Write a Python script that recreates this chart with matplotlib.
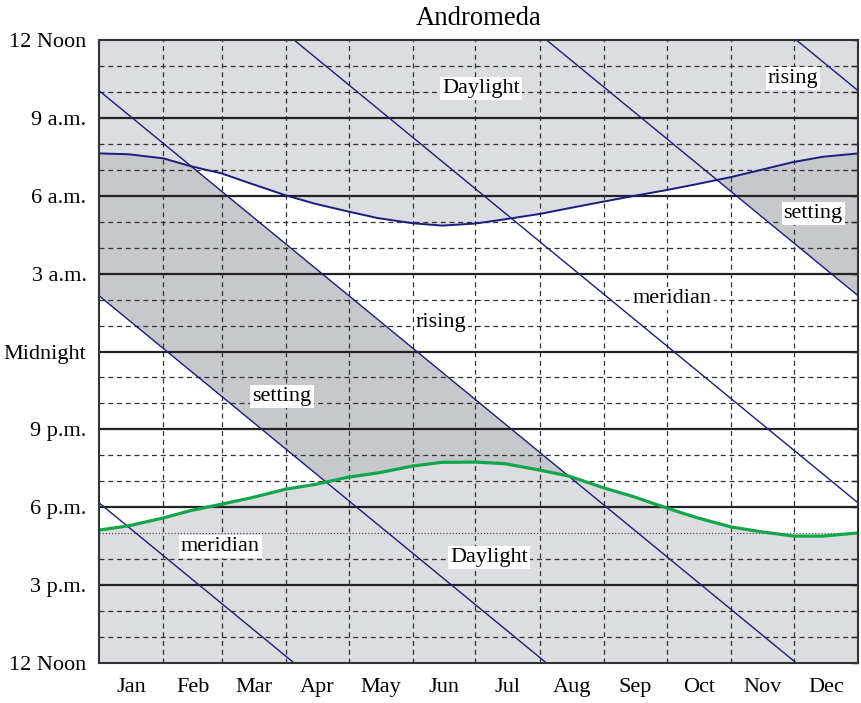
import numpy as np
import matplotlib.pyplot as plt

plt.rcParams['font.family'] = ['Liberation Serif', 'DejaVu Serif']
plt.rcParams['font.size'] = 16

months = ['Jan', 'Feb', 'Mar', 'Apr', 'May', 'Jun',
          'Jul', 'Aug', 'Sep', 'Oct', 'Nov', 'Dec']
month_starts = [0, 31, 59, 90, 120, 151, 181, 212, 243, 273, 304, 334, 365]

hour_labels = ['12 Noon', '3 p.m.', '6 p.m.', '9 p.m.', 'Midnight',
               '3 a.m.', '6 a.m.', '9 a.m.', '12 Noon']

# sunrise / sunset, roughly every half month (day of year, clock hours)
sun_days = [0, 14, 31, 44, 59, 73, 90, 104, 120, 134, 151, 165, 181, 195,
            212, 226, 243, 257, 273, 287, 304, 318, 334, 348, 365]
sunrise_am = [7.63, 7.60, 7.44, 7.14, 6.86, 6.47, 6.01, 5.69, 5.39, 5.14,
              4.94, 4.85, 4.93, 5.09, 5.30, 5.52, 5.78, 5.99, 6.22, 6.44,
              6.72, 6.99, 7.30, 7.50, 7.63]
sunset_pm = [5.12, 5.28, 5.59, 5.87, 6.12, 6.36, 6.70, 6.88, 7.16, 7.32,
             7.59, 7.73, 7.74, 7.68, 7.43, 7.20, 6.74, 6.41, 5.97, 5.61,
             5.24, 5.06, 4.89, 4.89, 5.01]

# Andromeda on 1 Jan, in hours after noon; everything drifts 24 h per year
star_rise_jan1 = 22.05
star_meridian_jan1 = 6.17
star_set_jan1 = 14.15
year_days = 365.0

day_gray = '#dcdde0'
star_gray = '#c7c8cb'
navy = '#1c1c7c'
green = '#12a64a'

fig = plt.figure(figsize=(8.61, 7.03), dpi=100)
ax = fig.add_axes([99 / 861, 40 / 703, 759 / 861, 623 / 703])
ax.set_xlim(0, year_days)
ax.set_ylim(0, 24)
ax.set_facecolor(day_gray)

# night = between sunset and next sunrise
d = np.linspace(0, year_days, 2000)
rise_h = np.interp(d, sun_days, 12 + np.array(sunrise_am))
set_h = np.interp(d, sun_days, sunset_pm)
ax.fill_between(d, set_h, rise_h, color='white', lw=0, zorder=0.5)

# part of the night when the star is down (between setting and rising)
star_set = star_set_jan1 - 24 * d / year_days
star_rise = star_rise_jan1 - 24 * d / year_days
for k in (-1, 0, 1):
    lo = np.maximum(set_h, star_set + 24 * k)
    hi = np.minimum(rise_h, star_rise + 24 * k)
    ax.fill_between(d, lo, hi, where=hi > lo, interpolate=True,
                    color=star_gray, lw=0, zorder=0.6)

# grid
for h in range(1, 24):
    if h % 3 == 0:
        ax.axhline(h, color='#222222', lw=1.6, zorder=1)
    elif h == 5:
        ax.axhline(h, color='#555555', lw=0.9, ls=(0, (1, 1.5)), zorder=1)
    else:
        ax.axhline(h, color='#333333', lw=0.9, ls=(0, (4, 3)), zorder=1)
for m in month_starts[1:-1]:
    ax.axvline(m, color='#333333', lw=0.9, ls=(0, (4, 3)), zorder=1)

# rising / meridian / setting lines, wrapped round the day
ends = np.array([0, year_days])
for h0 in (star_rise_jan1, star_meridian_jan1, star_set_jan1):
    for k in (-1, 0, 1):
        ax.plot(ends, h0 - 24 * ends / year_days + 24 * k,
                color=navy, lw=1.0, zorder=2)

ax.plot(sun_days, 12 + np.array(sunrise_am), color=navy, lw=1.4, zorder=3)
ax.plot(sun_days, sunset_pm, color=green, lw=2.3, zorder=3)

labels = [('Daylight', 183.7, 22.15), ('rising', 333.7, 22.53),
          ('setting', 343.4, 17.33), ('meridian', 275.6, 14.06),
          ('rising', 164.5, 13.1), ('setting', 88.0, 10.25),
          ('meridian', 58.2, 4.5), ('Daylight', 187.5, 4.08)]
for txt, x, y in labels:
    ax.text(x, y, txt, ha='center', va='center', zorder=4,
            bbox=dict(facecolor='white', edgecolor='none', pad=1.5))

mids = [(a + b) / 2 for a, b in zip(month_starts[:-1], month_starts[1:])]
ax.set_xticks(mids)
ax.set_xticklabels(months)
ax.tick_params(axis='x', length=0, pad=11)

ax.set_yticks(range(0, 25, 3))
ax.set_yticklabels(hour_labels)
ax.set_yticks(range(25), minor=True)
ax.tick_params(axis='y', which='both', left=False, right=True,
               direction='in', length=5, width=1, color='#222222', pad=9)

for s in ax.spines.values():
    s.set_color('#333333')
    s.set_linewidth(1.5)
    s.set_zorder(5)

ax.set_title('Andromeda', pad=11)

fig.savefig('out.png', dpi=100)
